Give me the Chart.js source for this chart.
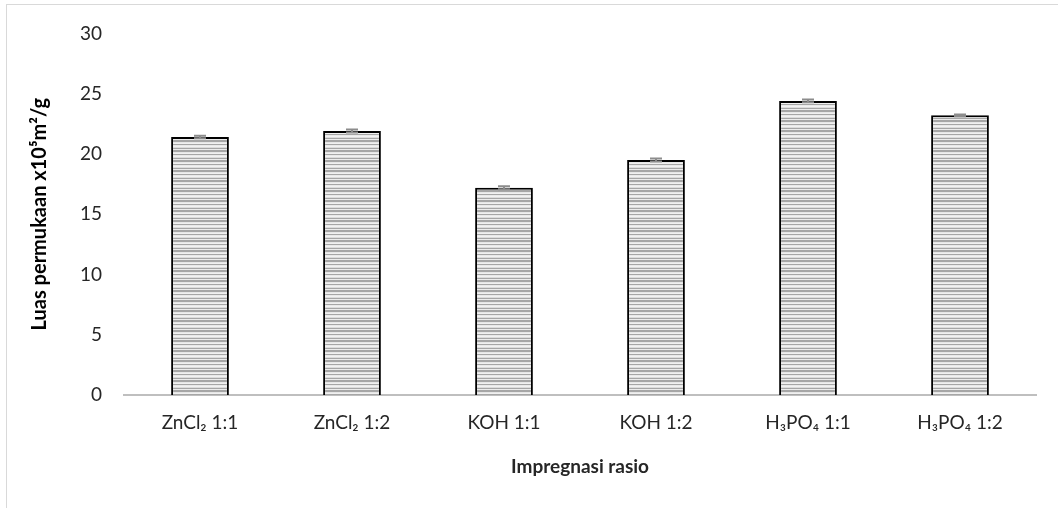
<!DOCTYPE html>
<html>
<head>
<meta charset="utf-8">
<script src="https://cdn.jsdelivr.net/npm/chart.js@4/dist/chart.umd.min.js"></script>
<style>
  html, body { margin: 0; padding: 0; background: #fff; }
  #wrap { position: relative; width: 1058px; height: 508px; }
  #frame { position: absolute; left: 6px; top: 4px; right: -4px; bottom: -4px; border: 1px solid #d9d9d9; }
  canvas { position: absolute; left: 0; top: 0; }
</style>
</head>
<body>
<div id="wrap">
  <div id="frame"></div>
  <canvas id="chart" width="1058" height="508"></canvas>
</div>
<script>
// data
const categories = ['ZnCl\u2082 1:1', 'ZnCl\u2082 1:2', 'KOH 1:1', 'KOH 1:2', 'H\u2083PO\u2084 1:1', 'H\u2083PO\u2084 1:2'];
const luasPermukaan = [21.4, 21.9, 17.2, 19.5, 24.4, 23.2];
const galat = [0.1, 0.12, 0.12, 0.12, 0.12, 0.08];
const yTicks = [0, 5, 10, 15, 20, 25, 30];

// horizontal stripe fill like the original
function makeStripes() {
  const c = document.createElement('canvas');
  c.width = 4; c.height = 10;
  const g = c.getContext('2d');
  const rows = ['#a6a6a6', '#a6a6a6', '#e6e6e6', '#f0f0f0', '#a6a6a6', '#e9e9e9', '#f2f2f2', '#dcdcdc', '#a6a6a6', '#ececec'];
  rows.forEach((col, i) => { g.fillStyle = col; g.fillRect(0, i, 4, 1); });
  return g.createPattern(c, 'repeat');
}

const errorBars = {
  id: 'errorBars',
  afterDatasetsDraw(chart) {
    const ctx = chart.ctx;
    const y = chart.scales.y;
    const meta = chart.getDatasetMeta(0);
    ctx.save();
    ctx.strokeStyle = '#8c8c8c';
    ctx.lineWidth = 2;
    meta.data.forEach((bar, i) => {
      const v = luasPermukaan[i], e = galat[i];
      const top = y.getPixelForValue(v + e);
      const bot = y.getPixelForValue(v - e);
      ctx.beginPath();
      ctx.moveTo(bar.x, top); ctx.lineTo(bar.x, bot);
      ctx.moveTo(bar.x - 6, top); ctx.lineTo(bar.x + 6, top);
      ctx.moveTo(bar.x - 6, bot); ctx.lineTo(bar.x + 6, bot);
      ctx.stroke();
    });
    ctx.restore();
  }
};

const font = "Lato, 'Open Sans', sans-serif";

new Chart(document.getElementById('chart'), {
  type: 'bar',
  data: {
    labels: categories,
    datasets: [{
      data: luasPermukaan,
      backgroundColor: makeStripes(),
      borderColor: '#000',
      borderWidth: 2,
      categoryPercentage: 1,
      barPercentage: 0.38
    }]
  },
  options: {
    responsive: false,
    animation: false,
    layout: { padding: { left: 0, right: 22, top: 33, bottom: 0 } },
    plugins: { legend: { display: false }, tooltip: { enabled: false } },
    scales: {
      x: {
        grid: { display: false, drawTicks: false },
        border: { display: true, color: '#bfbfbf', width: 2 },
        ticks: { color: '#262626', font: { family: font, size: 19 }, padding: 16 },
        title: {
          display: true, text: 'Impregnasi rasio', color: '#262626',
          font: { family: font, size: 19, weight: 'bold' }, padding: { top: 30, bottom: 30 }
        },
        afterFit(s) { s.height = 113; }
      },
      y: {
        min: 0, max: 30,
        afterBuildTicks(s) { s.ticks = yTicks.map(v => ({ value: v })); },
        grid: { display: false, drawTicks: false },
        border: { display: false },
        ticks: { color: '#262626', font: { family: font, size: 19 }, padding: 22 },
        title: {
          display: true, text: 'Luas permukaan x10\u2075m\u00b2/g', color: '#000',
          font: { family: font, size: 20, weight: 'bold' }, padding: { top: 28, bottom: 28 }
        },
        afterFit(s) { s.width = 124; }
      }
    }
  },
  plugins: [errorBars]
});
</script>
</body>
</html>
